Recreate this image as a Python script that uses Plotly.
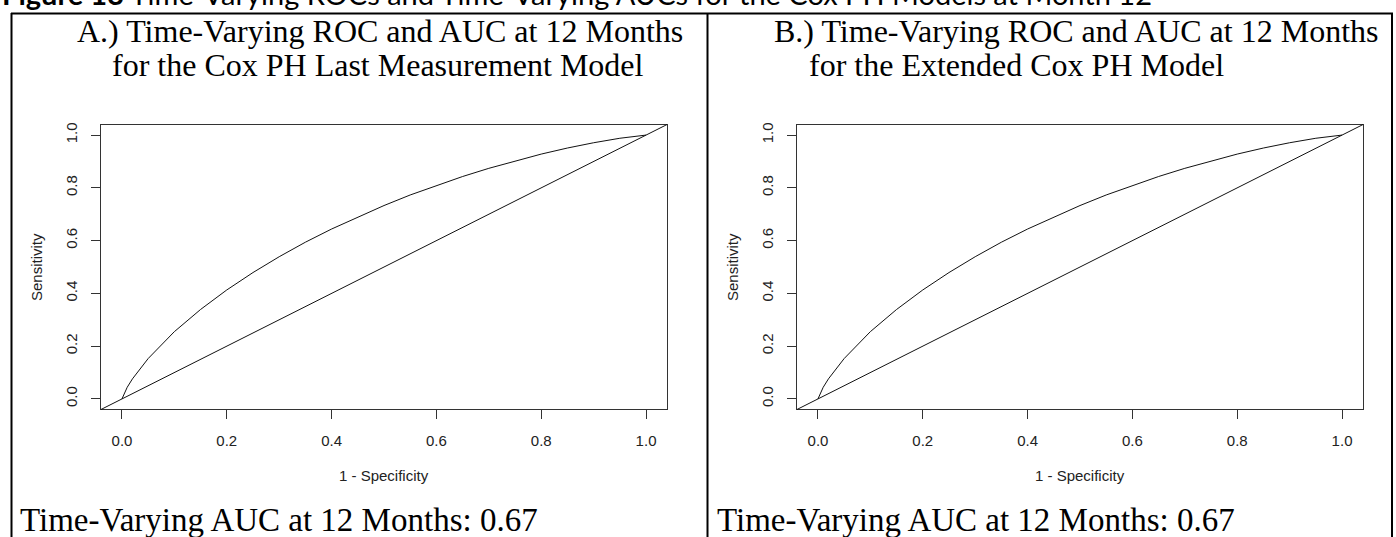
import plotly.graph_objects as go

W, H = 1396, 537

# ---- data ----
fpr_a = [0.0, 0.005, 0.01, 0.02, 0.05, 0.10, 0.15, 0.20, 0.25, 0.30, 0.35, 0.40, 0.45, 0.50,
         0.55, 0.60, 0.65, 0.70, 0.75, 0.80, 0.85, 0.90, 0.95, 0.98, 1.0]
tpr_a = [0.0, 0.025, 0.044, 0.076, 0.153, 0.255, 0.339, 0.413, 0.479, 0.539, 0.594, 0.644, 0.690, 0.733,
         0.773, 0.809, 0.843, 0.874, 0.902, 0.928, 0.951, 0.971, 0.988, 0.996, 1.0]
fpr_b = [0.0, 0.005, 0.01, 0.02, 0.05, 0.10, 0.15, 0.20, 0.25, 0.30, 0.35, 0.40, 0.45, 0.50,
         0.55, 0.60, 0.65, 0.70, 0.75, 0.80, 0.85, 0.90, 0.95, 0.98, 1.0]
tpr_b = [0.0, 0.025, 0.044, 0.076, 0.153, 0.255, 0.339, 0.413, 0.479, 0.539, 0.594, 0.644, 0.690, 0.733,
         0.773, 0.809, 0.843, 0.874, 0.902, 0.928, 0.951, 0.971, 0.988, 0.996, 1.0]
tick_vals = [0.0, 0.2, 0.4, 0.6, 0.8, 1.0]
tick_text = ["0.0", "0.2", "0.4", "0.6", "0.8", "1.0"]
auc_a = 0.67
auc_b = 0.67
caption = "Figure 13 Time-Varying ROCs and Time-Varying AUCs for the Cox PH Models at Month 12"
title_a = ["A.) Time-Varying ROC and AUC at 12 Months", "for the Cox PH Last Measurement Model"]
title_b = ["B.) Time-Varying ROC and AUC at 12 Months", "for the Extended Cox PH Model"]
x_label = "1 - Specificity"
y_label = "Sensitivity"


def px(x):
    return x / W


def py(y):
    return 1 - y / H


SANS = "Liberation Sans, Arial, sans-serif"
SERIF = "Liberation Serif, Times New Roman, serif"
AX = "#333333"

fig = go.Figure()
fig.add_trace(go.Scatter(x=fpr_a, y=tpr_a, mode="lines", line=dict(color="#111", width=1),
                         xaxis="x", yaxis="y", showlegend=False, hoverinfo="skip"))
fig.add_trace(go.Scatter(x=fpr_b, y=tpr_b, mode="lines", line=dict(color="#111", width=1),
                         xaxis="x2", yaxis="y2", showlegend=False, hoverinfo="skip"))

rng = [-0.04, 1.04]
common = dict(range=rng, showgrid=False, zeroline=False, showline=True, mirror=True,
              linecolor=AX, linewidth=1, ticks="outside", ticklen=9, tickwidth=1,
              tickcolor=AX, tickvals=tick_vals, ticktext=tick_text,
              tickfont=dict(family=SANS, size=15, color="#222"), fixedrange=True)

ydom = [py(409), py(123)]
fig.update_layout(
    xaxis=dict(domain=[px(101), px(667)], anchor="y", ticklabelstandoff=9, **common),
    yaxis=dict(domain=ydom, anchor="x", tickangle=-90, ticklabelstandoff=8, **common),
    xaxis2=dict(domain=[px(797), px(1363)], anchor="y2", ticklabelstandoff=9, **common),
    yaxis2=dict(domain=ydom, anchor="x2", tickangle=-90, ticklabelstandoff=8, **common),
)

shapes = []
# reference diagonal across each plot region (abline 0,1)
for xr, yr in [("x domain", "y domain"), ("x2 domain", "y2 domain")]:
    shapes.append(dict(type="line", xref=xr, yref=yr, x0=0, y0=0, x1=1, y1=1,
                       line=dict(color="#111", width=1)))
# table borders
bl = dict(color="black", width=2)
shapes.append(dict(type="line", xref="paper", yref="paper", x0=px(11), x1=px(1393), y0=py(11.5), y1=py(11.5), line=bl))
for xv in [11.5, 707.5, 1392]:
    shapes.append(dict(type="line", xref="paper", yref="paper", x0=px(xv), x1=px(xv), y0=py(11), y1=py(540), line=bl))

ann = []
# caption, cut off at the top edge as in the reference
ann.append(dict(xref="paper", yref="paper", x=px(0), y=py(-9), xanchor="left", yanchor="middle",
                text="<b>Figure 13</b> " + caption[len("Figure 13 "):], showarrow=False,
                font=dict(family="Lato, Open Sans, sans-serif", size=29, color="black")))
for x0, ttl, auc in [(75, title_a, auc_a), (772, title_b, auc_b)]:
    ann.append(dict(xref="paper", yref="paper", x=px(x0), y=py(29), xanchor="left", yanchor="middle",
                    text=ttl[0], showarrow=False, font=dict(family=SERIF, size=32, color="black")))
    ann.append(dict(xref="paper", yref="paper", x=px(x0 + 35), y=py(63), xanchor="left", yanchor="middle",
                    text=ttl[1], showarrow=False, font=dict(family=SERIF, size=32, color="black")))
    ann.append(dict(xref="paper", yref="paper", x=px(x0 - 57), y=py(520), xanchor="left", yanchor="middle",
                    text="Time-Varying AUC at 12 Months: %.2f" % auc, showarrow=False,
                    font=dict(family=SERIF, size=33, color="black")))
for cx, ax_x in [(384, 36), (1080, 732)]:
    ann.append(dict(xref="paper", yref="paper", x=px(cx), y=py(475), xanchor="center", yanchor="middle",
                    text=x_label, showarrow=False, font=dict(family=SANS, size=15, color="#222")))
    ann.append(dict(xref="paper", yref="paper", x=px(ax_x), y=py(266), xanchor="center", yanchor="middle",
                    text=y_label, textangle=-90, showarrow=False, font=dict(family=SANS, size=15, color="#222")))

fig.update_layout(width=W, height=H, margin=dict(l=0, r=0, t=0, b=0),
                  paper_bgcolor="white", plot_bgcolor="white",
                  shapes=shapes, annotations=ann)

fig.write_html("out.html", config={"displayModeBar": False})
